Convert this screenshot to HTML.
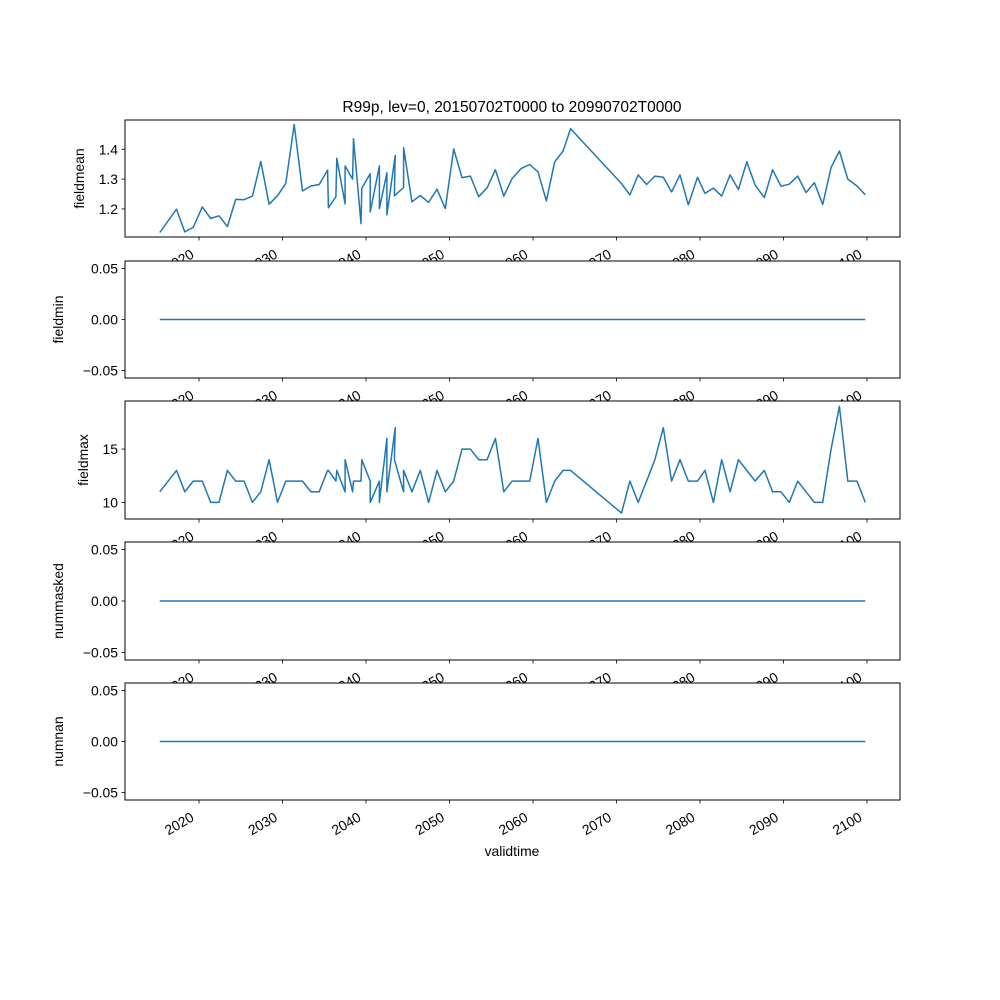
<!DOCTYPE html>
<html><head><meta charset="utf-8"><style>
html,body{margin:0;padding:0;background:#fff}
svg{display:block}
text{font-family:"Liberation Sans","DejaVu Sans",sans-serif;fill:#000}
</style></head><body>
<svg id="fig" width="1000" height="1000" viewBox="0 0 1000 1000" xmlns="http://www.w3.org/2000/svg">
<rect width="1000" height="1000" fill="#fff"/>
<text x="512" y="112" font-size="15.5" text-anchor="middle">R99p, lev=0, 20150702T0000 to 20990702T0000</text>
<text x="512" y="856" font-size="13.9" text-anchor="middle">validtime</text>
</svg>
<script>
const years = [2015.3,2017.3,2018.3,2019.3,2020.4,2021.4,2022.4,2023.4,2024.4,2025.4,2026.4,2027.4,2028.4,2029.4,2030.4,2031.4,2032.4,2033.4,2034.4,2035.4,2035.5,2036.4,2036.5,2037.5,2037.5,2038.4,2038.5,2039.4,2039.5,2040.5,2040.5,2041.6,2041.6,2042.5,2042.5,2043.5,2043.4,2044.5,2044.5,2045.5,2046.5,2047.5,2048.5,2049.5,2050.5,2051.5,2052.5,2053.5,2054.5,2055.5,2056.5,2057.5,2058.6,2059.6,2060.6,2061.6,2062.6,2063.6,2064.5,2070.6,2071.6,2072.6,2073.6,2074.6,2075.6,2076.6,2077.6,2078.6,2079.7,2080.6,2081.6,2082.6,2083.6,2084.6,2085.6,2086.6,2087.7,2088.7,2089.7,2090.7,2091.7,2092.7,2093.7,2094.7,2095.7,2096.7,2097.7,2098.8,2099.8];
const fieldmean = [1.121,1.199,1.123,1.138,1.207,1.168,1.177,1.141,1.232,1.231,1.243,1.359,1.216,1.244,1.286,1.483,1.26,1.277,1.282,1.33,1.204,1.241,1.37,1.217,1.344,1.30,1.435,1.151,1.27,1.318,1.19,1.344,1.201,1.321,1.18,1.379,1.244,1.272,1.405,1.224,1.245,1.222,1.266,1.201,1.401,1.305,1.31,1.241,1.271,1.331,1.243,1.302,1.336,1.349,1.324,1.227,1.358,1.394,1.469,1.285,1.247,1.314,1.282,1.31,1.306,1.257,1.314,1.214,1.306,1.252,1.27,1.243,1.314,1.265,1.358,1.28,1.238,1.331,1.276,1.283,1.31,1.255,1.288,1.215,1.339,1.394,1.30,1.277,1.247];
const fieldmax = [11,13,11,12,12,10,10,13,12,12,10,11,14,10,12,12,12,11,11,13,13,12,13,11,14,11,12,12,14,12,10,12,10,16,11,17,14,11,13,11,13,10,13,11,12,15,15,14,14,16,11,12,12,12,16,10,12,13,13,9,12,10,12,14,17,12,14,12,12,13,10,14,11,14,13,12,13,11,11,10,12,11,10,10,15,19,12,12,10];
const zeros = years.map(() => 0);
const xTicks = [2020,2030,2040,2050,2060,2070,2080,2090,2100];
const meanTicks = [1.2,1.3,1.4];
const maxTicks = [10,15];
const zeroTicks = [-0.05,0,0.05];

const NS = "http://www.w3.org/2000/svg";
const svg = document.getElementById('fig');
const L = 125, R = 900;
const xScale = y => 199 + (y - 2020) * 8.35;

function mk(tag, attrs, parent) {
  const e = document.createElementNS(NS, tag);
  for (const k in attrs) e.setAttribute(k, attrs[k]);
  (parent || svg).appendChild(e);
  return e;
}

const panels = [
  {name:'fieldmean', top:120, bot:237, vals:fieldmean, ticks:meanTicks, lo:1.106, hi:1.498, fmt:v=>v.toFixed(1), lx:84},
  {name:'fieldmin', top:261, bot:378, vals:zeros, ticks:zeroTicks, lo:-0.0573, hi:0.0573, fmt:v=>v===0?'0.00':(v<0?'\u22120.05':'0.05'), lx:63},
  {name:'fieldmax', top:401, bot:519, vals:fieldmax, ticks:maxTicks, lo:8.45, hi:19.5, fmt:v=>String(v), lx:88},
  {name:'nummasked', top:542, bot:660, vals:zeros, ticks:zeroTicks, lo:-0.0573, hi:0.0573, fmt:v=>v===0?'0.00':(v<0?'\u22120.05':'0.05'), lx:63},
  {name:'numnan', top:683, bot:800, vals:zeros, ticks:zeroTicks, lo:-0.0573, hi:0.0573, fmt:v=>v===0?'0.00':(v<0?'\u22120.05':'0.05'), lx:63}
];

panels.forEach(p => {
  const g = mk('g', {});
  
  
  const yS = v => p.bot - (v - p.lo) / (p.hi - p.lo) * (p.bot - p.top);
  mk('rect', {x:L, y:p.top, width:R-L, height:p.bot-p.top, fill:'#fff'}, g);
  const d = years.map((yr, i) => (i ? 'L' : 'M') + xScale(yr).toFixed(1) + ',' + yS(p.vals[i]).toFixed(1)).join('');
  const line = mk('path', {d:d, fill:'none', stroke:'#1f77b4', 'stroke-width':1.5, 'stroke-linejoin':'round'}, g);
  
  
  mk('rect', {x:L, y:p.top, width:R-L, height:p.bot-p.top, fill:'none', stroke:'#000', 'stroke-width':1}, g);
  p.ticks.forEach(t => {
    const y = yS(t);
    mk('line', {x1:L-3.5, x2:L, y1:y, y2:y, stroke:'#000', 'stroke-width':0.8}, g);
    const tx = mk('text', {x:L-7, y:y+5, 'font-size':13.9, 'text-anchor':'end'}, g);
    tx.textContent = p.fmt(t);
    
    
  });
  xTicks.forEach(t => {
    const x = xScale(t);
    mk('line', {x1:x, x2:x, y1:p.bot, y2:p.bot+3.5, stroke:'#000', 'stroke-width':0.8}, g);
    const ax = x - 4, ay = p.bot + 20;
    const tx = mk('text', {x:ax, y:ay, 'font-size':13.9, 'text-anchor':'end', transform:'rotate(-30 '+ax+' '+ay+')'}, g);
    tx.textContent = String(t);
    
    
  });
  const cy = (p.top + p.bot) / 2;
  const yl = mk('text', {x:p.lx, y:cy, 'font-size':13.9, 'text-anchor':'middle', transform:'rotate(-90 '+p.lx+' '+cy+')'}, g);
  yl.textContent = p.name;
  
  
});
</script>
</body></html>
